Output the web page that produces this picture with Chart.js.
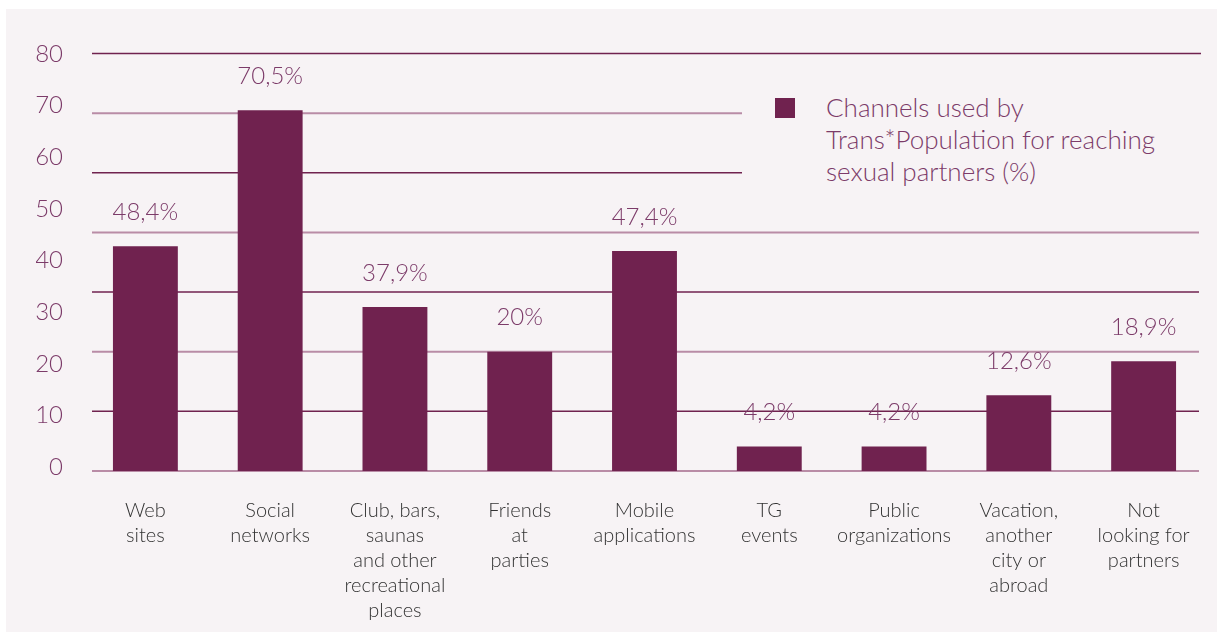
<!DOCTYPE html>
<html>
<head>
<meta charset="utf-8">
<script src="https://cdn.jsdelivr.net/npm/chart.js@4"></script>
<style>
  html, body { margin: 0; padding: 0; background: #ffffff; }
  #panel {
    position: absolute; left: 6px; top: 9px;
    width: 1211px; height: 623px;
    background: #f7f3f5;
  }
  #legend {
    position: absolute; left: 742px; top: 86px;
    width: 470px; height: 108px;
    background: #f7f3f5;
    font-family: Lato, sans-serif; font-weight: 300;
    font-size: 26px; line-height: 32px; color: #7c3b69;
  }
  #legend .box {
    position: absolute; left: 33px; top: 12px;
    width: 20px; height: 20px; background: #70224f;
  }
  #legend .text { position: absolute; left: 84px; top: 5px; white-space: nowrap; }
</style>
</head>
<body>
<div id="panel"><canvas id="chart"></canvas></div>
<div id="legend"><div class="box"></div><div class="text"></div></div>
<script>
// Data
const categories = [
    ['Web', 'sites'],
    ['Social', 'networks'],
    ['Club, bars,', 'saunas', 'and other', 'recreational', 'places'],
    ['Friends', 'at', 'parties'],
    ['Mobile', 'applications'],
    ['TG', 'events'],
    ['Public', 'organizations'],
    ['Vacation,', 'another', 'city or', 'abroad'],
    ['Not', 'looking for', 'partners']
];
// bar heights as drawn against the gridlines
const barValues = [37.7, 60.5, 27.5, 20.0, 36.9, 4.1, 4.1, 12.7, 18.4];
// printed value labels
const valueLabels = ['48,4%', '70,5%', '37,9%', '20%', '47,4%', '4,2%', '4,2%', '12,6%', '18,9%'];
const gridValues = [0, 10, 20, 30, 40, 50, 60, 70];
const yTickValues = [0, 10, 20, 30, 40, 50, 60, 70, 80];
const seriesName = 'Channels used by Trans*Population for reaching sexual partners (%)';
const legendLines = ['Channels used by', 'Trans*Population for reaching', 'sexual partners (%)'];

const barColor = '#70224f';
const gridDark = '#70224f';
const gridLight = '#b98ca6';
const labelColor = '#7c3b69';
const fontFamily = 'Lato, sans-serif';

document.querySelector('#legend .text').innerHTML = legendLines.join('<br>');

const gridPlugin = {
    id: 'insetGrid',
    beforeDatasetsDraw(chart) {
        const {ctx, chartArea, scales} = chart;
        ctx.save();
        gridValues.forEach((v, i) => {
            const y = scales.y.getPixelForValue(v);
            ctx.beginPath();
            ctx.strokeStyle = i % 2 ? gridDark : gridLight;
            ctx.lineWidth = i % 2 ? 1.5 : 2;
            ctx.moveTo(chartArea.left + 9, y);
            ctx.lineTo(chartArea.right - (i === gridValues.length - 1 ? 5 : 7), y);
            ctx.stroke();
        });
        ctx.restore();
    }
};

const valueLabelPlugin = {
    id: 'valueLabels',
    afterDatasetsDraw(chart) {
        const {ctx} = chart;
        const meta = chart.getDatasetMeta(0);
        ctx.save();
        ctx.font = '300 24px ' + fontFamily;
        ctx.fillStyle = labelColor;
        ctx.textAlign = 'center';
        ctx.textBaseline = 'middle';
        meta.data.forEach((bar, i) => {
            ctx.fillText(valueLabels[i], bar.x, bar.y - 34);
        });
        ctx.restore();
    }
};

new Chart(document.getElementById('chart'), {
    type: 'bar',
    data: {
        labels: categories,
        datasets: [{
            label: seriesName,
            data: barValues,
            backgroundColor: barColor,
            borderWidth: 0,
            categoryPercentage: 1,
            barPercentage: 0.52
        }]
    },
    options: {
        responsive: true,
        maintainAspectRatio: false,
        animation: false,
        layout: {
            padding: { left: 30, right: 7, top: 44.5, bottom: 9 }
        },
        plugins: {
            legend: { display: false },
            tooltip: { enabled: false }
        },
        scales: {
            x: {
                grid: { display: false, drawTicks: false },
                border: { display: false },
                afterFit(scale) {
                    scale.height = 152;
                },
                ticks: {
                    autoSkip: false,
                    maxRotation: 0,
                    padding: 27,
                    color: '#333333',
                    font: { family: fontFamily, size: 20, weight: 300, lineHeight: 1.25 }
                }
            },
            y: {
                display: false,
                min: 0,
                max: 70
            },
            yLab: {
                position: 'left',
                min: -0.77,
                max: 80.1,
                grid: { display: false, drawTicks: false },
                border: { display: false },
                afterBuildTicks(scale) {
                    scale.ticks = yTickValues.map(v => ({ value: v }));
                },
                afterFit(scale) {
                    scale.width = 47;
                },
                ticks: {
                    padding: 20,
                    color: labelColor,
                    font: { family: fontFamily, size: 24, weight: 300 }
                }
            }
        }
    },
    plugins: [gridPlugin, valueLabelPlugin]
});
</script>
</body>
</html>
